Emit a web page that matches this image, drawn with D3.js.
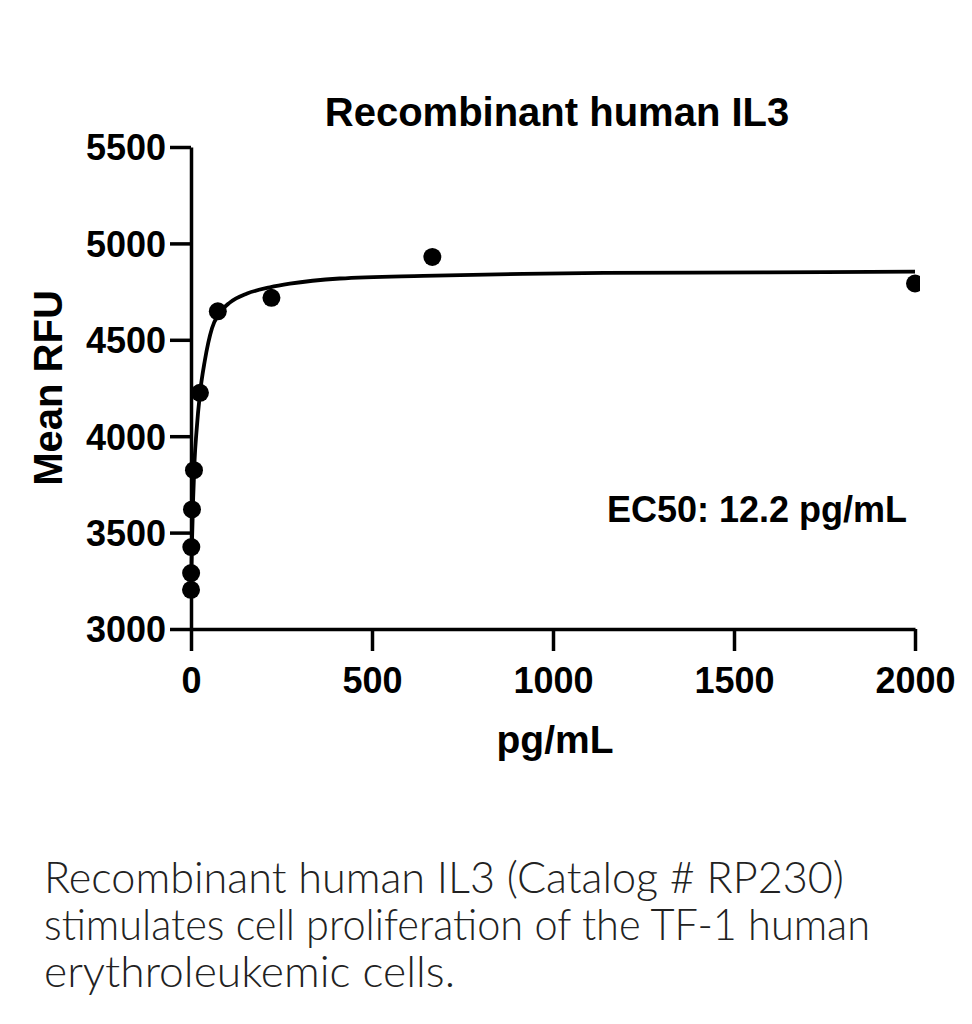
<!DOCTYPE html>
<html>
<head>
<meta charset="utf-8">
<script src="https://cdn.jsdelivr.net/npm/d3@7"></script>
<style>
  html, body { margin: 0; padding: 0; background: #fff; }
  svg text { font-family: "Liberation Sans", Arial, sans-serif; }
</style>
</head>
<body>
<svg id="chart" width="972" height="1024"></svg>
<script>
// measured points (dilution series, pg/mL) and mean RFU
const doses = [2000, 666.7, 222.2, 74.07, 24.69, 8.23, 2.743, 0.914, 0.305, 0.102];
const rfu = [4792, 4930, 4718, 4648, 4225, 3824, 3620, 3425, 3290, 3203];

// fitted curve
const curveX = [0.1, 1, 3, 6, 10, 15, 25, 38, 58, 77, 108, 155, 218, 273, 411, 641, 917, 1140, 1591, 2000];
const curveY = [3200, 3290, 3470, 3680, 3880, 4020, 4225, 4390, 4560, 4635, 4694, 4740, 4772, 4791, 4818, 4832, 4842, 4847, 4850, 4854];

const xTicks = [0, 500, 1000, 1500, 2000];
const yTicks = [3000, 3500, 4000, 4500, 5000, 5500];

const captionLines = [
  "Recombinant human IL3 (Catalog # RP230)",
  "stimulates cell proliferation of the TF-1 human",
  "erythroleukemic cells."
];
// widths of caption lines as seen in the picture
const captionWidths = [800, 826, 411];

const svg = d3.select("#chart");

const x = d3.scaleLinear().domain([0, 2000]).range([191, 915]);
const y = d3.scaleLinear().domain([3000, 5500]).range([629, 147]);

// axes
const gx = svg.append("g")
  .attr("transform", "translate(0," + y(3000) + ")")
  .call(d3.axisBottom(x).tickValues(xTicks).tickFormat(d3.format("d"))
    .tickSize(22).tickSizeOuter(0).tickPadding(16));

const gy = svg.append("g")
  .attr("transform", "translate(" + x(0) + ",0)")
  .call(d3.axisLeft(y).tickValues(yTicks).tickFormat(d3.format("d"))
    .tickSize(21).tickSizeOuter(0).tickPadding(4));

[gx, gy].forEach(g => {
  g.attr("font-family", null);
  g.selectAll("path, line").attr("stroke", "#000").attr("stroke-width", 3.5);
  g.selectAll("text")
    .attr("fill", "#000")
    .style("font-size", "36px")
    .style("font-weight", "bold")
    .style("font-family", "'Liberation Sans', Arial, sans-serif");
});
gy.selectAll("text").attr("dy", "0.36em");

// clip for marks
svg.append("clipPath").attr("id", "plotClip")
  .append("rect").attr("x", 150).attr("y", 100).attr("width", 770).attr("height", 560);

const plot = svg.append("g").attr("clip-path", "url(#plotClip)");

const curveData = curveX.map((d, i) => [d, curveY[i]]);
plot.append("path")
  .datum(curveData)
  .attr("fill", "none")
  .attr("stroke", "#000")
  .attr("stroke-width", 3.8)
  .attr("d", d3.line().x(d => x(d[0])).y(d => y(d[1])).curve(d3.curveMonotoneX));

plot.selectAll("circle")
  .data(doses.map((d, i) => [d, rfu[i]]))
  .enter()
  .append("circle")
  .attr("cx", d => x(d[0]))
  .attr("cy", d => y(d[1]))
  .attr("r", 9)
  .attr("fill", "#000");

// titles
svg.append("text")
  .attr("x", 557).attr("y", 126)
  .attr("text-anchor", "middle")
  .style("font-size", "40px").style("font-weight", "bold")
  .text("Recombinant human IL3");

svg.append("text")
  .attr("x", 555).attr("y", 753)
  .attr("text-anchor", "middle")
  .style("font-size", "39px").style("font-weight", "bold")
  .text("pg/mL");

svg.append("text")
  .attr("transform", "translate(62,388) rotate(-90)")
  .attr("text-anchor", "middle")
  .style("font-size", "40px").style("font-weight", "bold")
  .text("Mean RFU");

svg.append("text")
  .attr("x", 907).attr("y", 522)
  .attr("text-anchor", "end")
  .style("font-size", "36px").style("font-weight", "bold")
  .text("EC50: 12.2 pg/mL");

// caption
const cap = svg.append("g");
captionLines.forEach((t, i) => {
  cap.append("text")
    .attr("x", 44).attr("y", 893 + i * 47)
    .attr("fill", "#222")
    .attr("textLength", captionWidths[i])
    .attr("lengthAdjust", "spacingAndGlyphs")
    .style("font-family", "Lato, 'Open Sans', sans-serif")
    .style("font-weight", 300)
    .style("font-size", "44px")
    .text(t);
});
</script>
</body>
</html>
